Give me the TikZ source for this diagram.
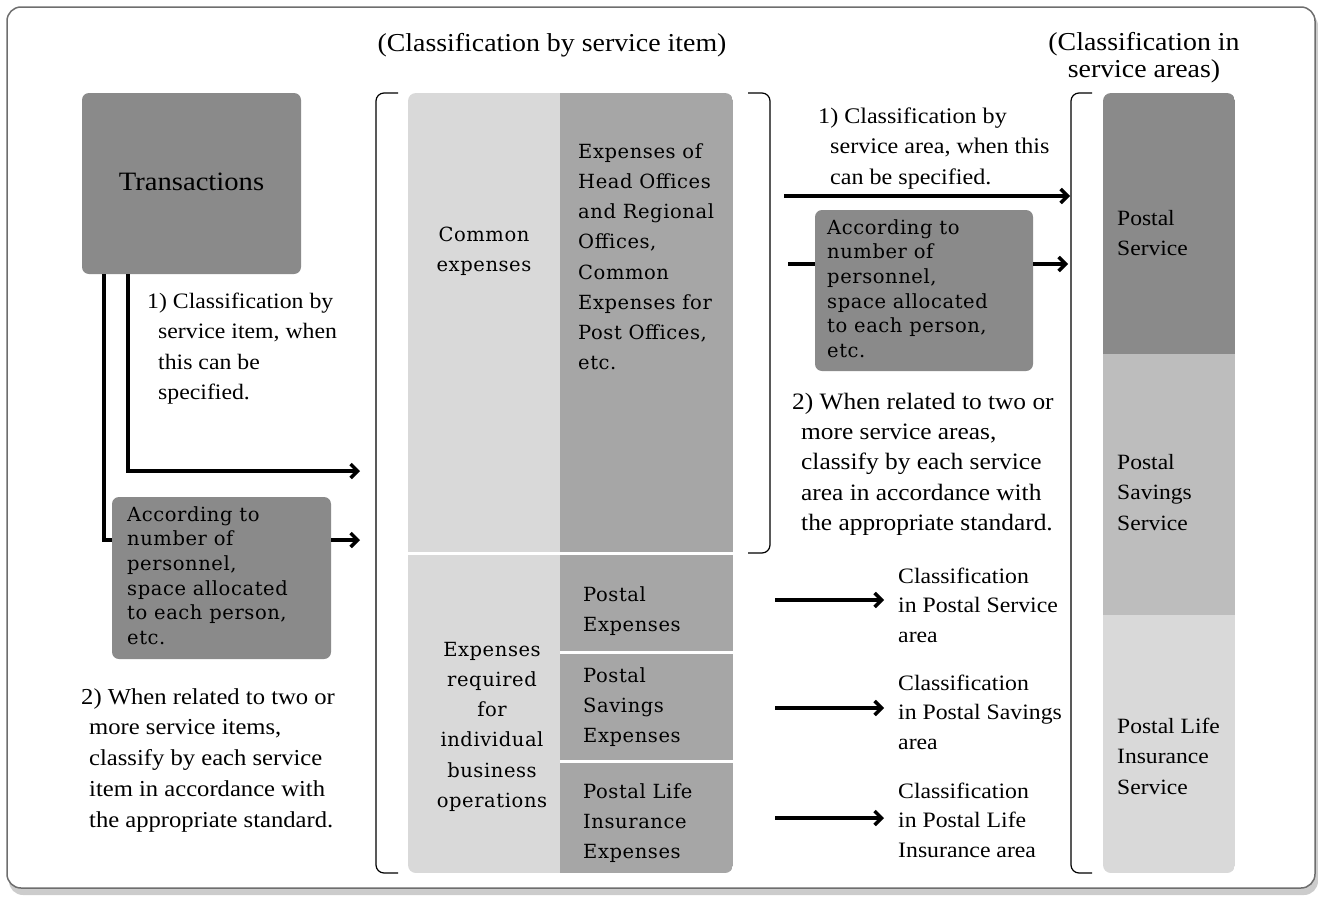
\documentclass[tikz,border=0pt]{standalone}
\usepackage{fontspec}
\setmainfont{Liberation Serif}[FakeStretch=1.08]
\newfontfamily\boxfont{DejaVu Serif}[LetterSpace=3]
\usetikzlibrary{arrows.meta}
\definecolor{dk}{HTML}{8A8A8A}
\definecolor{md}{HTML}{A6A6A6}
\definecolor{sv}{HTML}{BDBDBD}
\definecolor{lt}{HTML}{D9D9D9}
\definecolor{framec}{HTML}{6E6E6E}
\newcommand\fl{\rule{0pt}{20pt}}
\begin{document}
\begin{tikzpicture}[x=1pt,y=-1pt,
  lab/.style={inner sep=0pt, anchor=north west, align=left, font=\fontsize{22}{30.5}\selectfont},
  labc/.style={inner sep=0pt, anchor=north, align=center, font=\fontsize{22}{30.5}\selectfont},
  boxtxt/.style={inner sep=0pt, anchor=north west, align=left, font=\boxfont\fontsize{19.5}{24.6}\selectfont},
  blocktxt/.style={inner sep=0pt, anchor=north west, align=left, font=\boxfont\fontsize{19.5}{30.2}\selectfont},
  blocktxtc/.style={inner sep=0pt, anchor=north, align=center, font=\boxfont\fontsize{19.5}{30.2}\selectfont},
  dkbox/.style={fill=dk, rounded corners=7pt, inner sep=0pt},
  cell/.style={inner sep=0pt},
  conn/.style={line width=3.5pt},
  arr/.style={line width=3.5pt, -{Straight Barb[length=7pt,width=14pt]}},
  brk/.style={line width=1.2pt, rounded corners=8pt}
]
\useasboundingbox (0,0) rectangle (1318,897);
% frame
\fill[black!20, rounded corners=14pt] (9,12) rectangle (1318,895);
\fill[white, draw=framec, line width=1.5pt, rounded corners=14pt] (7,7) rectangle (1315,888);

% titles
\node[labc, font=\fontsize{25.8}{27}\selectfont] (t1) at (552,31) {\fl(Classification by service item)};
\node[labc, font=\fontsize{25.8}{27}\selectfont] (t2) at (1144,30) {\fl(Classification in\\service areas)};

% transactions
\node[dkbox, minimum width=219pt, minimum height=181pt, font=\fontsize{26.5}{30}\selectfont] (trans) at (191.5,183.5) {\raisebox{3pt}{Transactions}};

% left box
\node[dkbox, minimum width=219pt, minimum height=162pt] (lbox) at (221.5,578) {};
\node[boxtxt] (lboxt) at (127,501) {\fl According to\\number of\\personnel,\\space allocated\\to each person,\\etc.};

% left texts
\node[lab] (l1) at (147,288) {\fl 1) Classification by\\\hspace*{11pt}service item, when\\\hspace*{11pt}this can be\\\hspace*{11pt}specified.};
\node[lab, font=\fontsize{22.8}{30.7}\selectfont] (l2) at (81,684) {\fl 2) When related to two or\\\hspace*{8pt}more service items,\\\hspace*{8pt}classify by each service\\\hspace*{8pt}item in accordance with\\\hspace*{8pt}the appropriate standard.};

% left connectors
\coordinate (c1) at (104,540);
\coordinate (c2) at (128,471);
\coordinate (e1) at (360,471);
\coordinate (e2) at (360,540);
\draw[conn] (trans.south -| c1) |- (lbox.west |- c1);
\draw[arr] (trans.south -| c2) |- (e1);
\draw[arr] (lbox.east |- c1) -- (e2);

% left bracket
\draw[brk] (398,93) -- (376,93) -- (376,873) -- (398,873);

% middle block
\begin{scope}
\clip[rounded corners=8pt] (408,93) rectangle (733,873);
\fill[lt] (408,93) rectangle (560,873);
\fill[md] (560,93) rectangle (733,873);
\draw[white, line width=3pt] (408,553) -- (733,553);
\draw[white, line width=3pt] (560,652) -- (733,652);
\draw[white, line width=3pt] (560,761) -- (733,761);
\end{scope}
\node[cell, minimum width=173pt, minimum height=98pt] (pcell) at (646.5,603) {};
\node[cell, minimum width=173pt, minimum height=109pt] (scell) at (646.5,706.5) {};
\node[cell, minimum width=173pt, minimum height=112pt] (icell) at (646.5,817) {};

\node[blocktxtc] (ce) at (484,221) {\fl Common\\expenses};
\node[blocktxt] (ho) at (578,138) {\fl Expenses of\\Head Offices\\and Regional\\Offices,\\Common\\Expenses for\\Post Offices,\\etc.};
\node[blocktxtc] (ei) at (492,636) {\fl Expenses\\required\\for\\individual\\business\\operations};
\node[blocktxt] (pe) at (583,581) {\fl Postal\\Expenses};
\node[blocktxt] (se) at (583,662) {\fl Postal\\Savings\\Expenses};
\node[blocktxt] (ie) at (583,778) {\fl Postal Life\\Insurance\\Expenses};

% middle right bracket
\draw[brk] (748,93) -- (770,93) -- (770,553) -- (748,553);

% right side texts
\node[lab, font=\fontsize{22.3}{30.5}\selectfont] (r1) at (818,103) {\fl 1) Classification by\\\hspace*{12pt}service area, when this\\\hspace*{12pt}can be specified.};
\node[lab, font=\fontsize{23.5}{30.3}\selectfont] (r2) at (792,389) {\fl 2) When related to two or\\\hspace*{9pt}more service areas,\\\hspace*{9pt}classify by each service\\\hspace*{9pt}area in accordance with\\\hspace*{9pt}the appropriate standard.};

\node[dkbox, minimum width=218pt, minimum height=161pt] (rbox) at (924,290.5) {};
\node[boxtxt] (rboxt) at (827,214) {\fl According to\\number of\\personnel,\\space allocated\\to each person,\\etc.};

\coordinate (s1) at (784,196);
\coordinate (f1) at (1070,196);
\coordinate (s2) at (788,264);
\coordinate (f2) at (1068,264);
\draw[arr] (s1) -- (f1);
\draw[conn] (s2) -- (rbox.west |- s2);
\draw[arr] (rbox.east |- s2) -- (f2);

% classification texts
\node[lab, font=\fontsize{22}{29.5}\selectfont] (k1) at (898,563) {\fl Classification\\in Postal Service\\area};
\node[lab, font=\fontsize{22}{29.5}\selectfont] (k2) at (898,670) {\fl Classification\\in Postal Savings\\area};
\node[lab, font=\fontsize{22}{29.5}\selectfont] (k3) at (898,778) {\fl Classification\\in Postal Life\\Insurance area};
\draw[arr] ([xshift=42pt]pcell.east) ++(0,-3) -- (884,600);
\draw[arr] ([xshift=42pt]scell.east) ++(0,1.5) -- (884,708);
\draw[arr] ([xshift=42pt]icell.east) ++(0,1) -- (884,818);

% right bracket
\draw[brk] (1092,93) -- (1071,93) -- (1071,873) -- (1092,873);

% right column
\begin{scope}
\clip[rounded corners=8pt] (1103,93) rectangle (1235,873);
\fill[dk] (1103,93) rectangle (1235,354);
\fill[sv] (1103,354) rectangle (1235,615);
\fill[lt] (1103,615) rectangle (1235,873);
\end{scope}
\node[lab, font=\fontsize{21.8}{30.5}\selectfont] (ps) at (1117,205) {\fl Postal\\Service};
\node[lab, font=\fontsize{21.8}{30.5}\selectfont] (pss) at (1117,449) {\fl Postal\\Savings\\Service};
\node[lab, font=\fontsize{21.8}{30.5}\selectfont] (pls) at (1117,713) {\fl Postal Life\\Insurance\\Service};
\end{tikzpicture}
\end{document}
